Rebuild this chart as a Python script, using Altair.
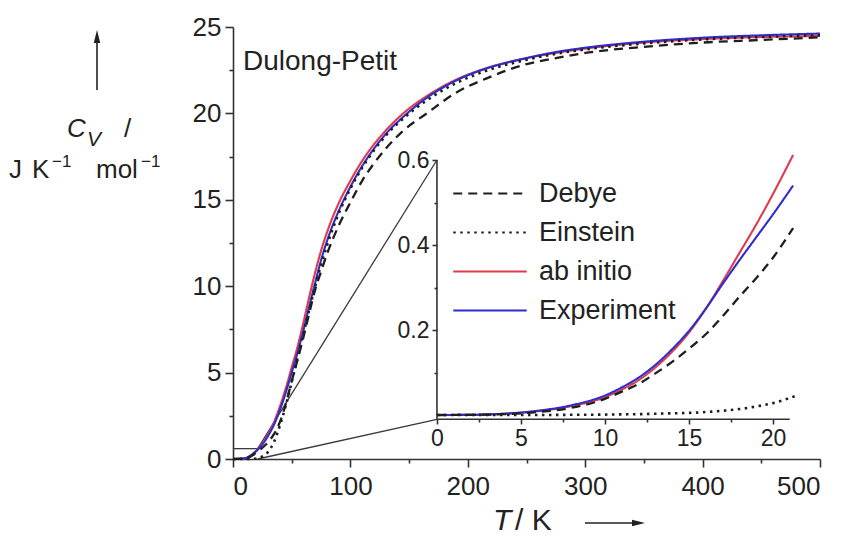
import altair as alt
import pandas as pd

# ---------------- data ----------------
SERIES = ["Debye", "Einstein", "ab initio", "Experiment"]
COLORS = ["#1e1e1e", "#1e1e1e", "#e23a4c", "#2d2dcf"]
DASHES = [[9, 6], [2.5, 4.5], [1, 0], [1, 0]]
DRAW_ORDER = ["ab initio", "Experiment", "Debye", "Einstein"]

T_MAIN = [0, 10, 15, 20, 25, 30, 35, 40, 45, 50, 55, 60, 65, 70, 75, 80, 90, 100,
          110, 120, 130, 145, 165, 190, 215, 250, 275, 300, 350, 400, 450, 500]
AB_INITIO_MAIN = [0, 0.04, 0.2, 0.5, 0.9, 1.45, 2.15, 3.05, 4.1, 5.3, 6.5, 7.9, 9.4, 10.8,
                  12.05, 13.1, 14.8, 16.1, 17.25, 18.2, 19.0, 20.0, 21.0, 21.95, 22.6,
                  23.2, 23.5, 23.75, 24.1, 24.3, 24.42, 24.48]
EXPERIMENT_MAIN = [0, 0.045, 0.2, 0.47, 0.84, 1.35, 2.0, 2.85, 3.85, 5.0, 6.15, 7.45, 8.85,
                   10.2, 11.5, 12.6, 14.35, 15.75, 16.95, 17.95, 18.8, 19.8, 20.9, 21.9,
                   22.58, 23.2, 23.55, 23.8, 24.15, 24.38, 24.52, 24.62]
DEBYE_MAIN = [0, 0.035, 0.15, 0.37, 0.65, 0.98, 1.45, 2.15, 3.2, 4.5, 5.75, 7.05, 8.45, 9.8,
              10.85, 11.85, 13.5, 14.85, 16.1, 17.1, 17.95, 19.0, 20.0, 21.2, 22.0,
              22.85, 23.2, 23.5, 23.85, 24.1, 24.25, 24.4]
EINSTEIN_MAIN = [0, 0, 0.005, 0.03, 0.15, 0.42, 1.0, 1.95, 3.1, 4.45, 5.85, 7.25, 8.65,
                 10.0, 11.25, 12.35, 14.2, 15.65, 16.85, 17.85, 18.7, 19.7, 20.75, 21.75,
                 22.45, 23.1, 23.45, 23.7, 24.05, 24.28, 24.42, 24.52]

T_INSET = [0, 2, 4, 6, 8, 10, 11, 12, 13, 14, 15, 16, 17, 18, 19, 20, 21.2]
T_INSET_EINSTEIN = [0, 2, 4, 6, 8, 10, 11, 12, 13, 14, 15, 16, 17, 18, 19, 20, 21.5]
AB_INITIO_INSET = [0, 0.0005, 0.003, 0.009, 0.021, 0.042, 0.06, 0.082, 0.112, 0.149,
                   0.194, 0.25, 0.314, 0.381, 0.448, 0.52, 0.612]
EXPERIMENT_INSET = [0, 0.0005, 0.003, 0.01, 0.023, 0.046, 0.065, 0.088, 0.118, 0.155,
                    0.198, 0.25, 0.308, 0.364, 0.418, 0.472, 0.54]
DEBYE_INSET = [0, 0.0004, 0.002, 0.007, 0.017, 0.038, 0.055, 0.073, 0.098, 0.125,
               0.156, 0.19, 0.232, 0.278, 0.322, 0.37, 0.44]
EINSTEIN_INSET = [0, 0, 0, 0, 0.0005, 0.001, 0.0015, 0.002, 0.003, 0.004, 0.005,
                  0.007, 0.01, 0.014, 0.02, 0.028, 0.047]

MAIN_X_TICKS = [0, 50, 100, 150, 200, 250, 300, 350, 400, 450, 500]
MAIN_Y_TICKS = [0, 2.5, 5, 7.5, 10, 12.5, 15, 17.5, 20, 22.5, 25]
INSET_X_TICKS = [0, 2.5, 5, 7.5, 10, 12.5, 15, 17.5, 20]
INSET_Y_TICKS = [0.1, 0.2, 0.3, 0.4, 0.5, 0.6]

# ---------------- layout constants ----------------
W, H = 587, 432
PAD = {"left": 233, "top": 27, "right": 24, "bottom": 78}
INSET_X_DOMAIN = [-12.14, 22.80]   # inset scale stretched over the whole plot area
INSET_Y_DOMAIN = [-0.1035, 0.913]
INSET_T_END, INSET_C_TOP, INSET_C_FLOOR = 21, 0.6, -0.01
FONT = "Liberation Sans"
INK = "#222222"


def to_main(t, c):
    tx = (t - INSET_X_DOMAIN[0]) / (INSET_X_DOMAIN[1] - INSET_X_DOMAIN[0]) * 500
    cy = (c - INSET_Y_DOMAIN[0]) / (INSET_Y_DOMAIN[1] - INSET_Y_DOMAIN[0]) * 25
    return tx, cy


def long_frame(t_lists, value_lists):
    rows = []
    for name, ts, vals in zip(SERIES, t_lists, value_lists):
        for t, v in zip(ts, vals):
            rows.append({"T": t, "Cv": v, "series": name})
    return pd.DataFrame(rows)


main_df = long_frame([T_MAIN] * 4, [DEBYE_MAIN, EINSTEIN_MAIN, AB_INITIO_MAIN, EXPERIMENT_MAIN])
inset_df = long_frame([T_INSET, T_INSET_EINSTEIN, T_INSET, T_INSET],
                      [DEBYE_INSET, EINSTEIN_INSET, AB_INITIO_INSET, EXPERIMENT_INSET])

legend = alt.Legend(title=None, orient="none", legendX=219, legendY=153,
                    symbolType="stroke", symbolSize=5400, symbolStrokeWidth=2.2,
                    labelFont=FONT, labelFontSize=27, labelColor=INK, labelOffset=11,
                    clipHeight=27, rowPadding=11, padding=0, labelLimit=0)
color_enc = alt.Color("series:N", scale=alt.Scale(domain=SERIES, range=COLORS), legend=legend)
dash_enc = alt.StrokeDash("series:N", scale=alt.Scale(domain=SERIES, range=DASHES), legend=legend)
WIDTHS = {"Debye": 2.3, "Einstein": 2.6, "ab initio": 2.1, "Experiment": 2.1}

axis_common = dict(grid=False, title=None, tickColor="#333", tickWidth=1.6,
                   labelFont=FONT, labelColor=INK)

main_x = alt.X("T:Q", scale=alt.Scale(domain=[0, 500], nice=False, zero=False),
               axis=alt.Axis(orient="bottom", values=MAIN_X_TICKS, domainColor="#333", domainWidth=1.6,
                             labelExpr="datum.value % 100 == 0 ? datum.label : ''",
                             tickSize={"condition": {"test": "datum.value % 100 != 0", "value": 4}, "value": 8},
                             labelFontSize=26, labelPadding=6, **axis_common))
main_y = alt.Y("Cv:Q", scale=alt.Scale(domain=[0, 25], nice=False, zero=False),
               axis=alt.Axis(orient="left", values=MAIN_Y_TICKS, domainColor="#333", domainWidth=1.6,
                             labelExpr="datum.value % 5 == 0 ? datum.label : ''",
                             tickSize={"condition": {"test": "datum.value % 5 != 0", "value": 4}, "value": 8},
                             labelFontSize=26, labelPadding=4, **axis_common))

inset_x = alt.X("T:Q", scale=alt.Scale(domain=INSET_X_DOMAIN, nice=False, zero=False),
                axis=alt.Axis(orient="bottom", offset=-40, values=INSET_X_TICKS, domain=False,
                              labelExpr="datum.value % 5 == 0 ? format(datum.value, 'd') : ''",
                              tickSize={"condition": {"test": "datum.value % 5 != 0", "value": 3}, "value": 5},
                              labelFontSize=23, labelPadding=3, **axis_common))
inset_y = alt.Y("Cv:Q", scale=alt.Scale(domain=INSET_Y_DOMAIN, nice=False, zero=False),
                axis=alt.Axis(orient="left", offset=-204, values=INSET_Y_TICKS, domain=False,
                              labelExpr="round(datum.value * 10) % 2 == 0 ? format(datum.value, '.1f') : ''",
                              tickSize={"condition": {"test": "round(datum.value * 10) % 2 != 0", "value": 3}, "value": 5},
                              labelFontSize=23, labelPadding=3, **axis_common))


def series_layers(df, xenc, yenc):
    base = alt.Chart(df)
    out = []
    for s in DRAW_ORDER:
        out.append(base.transform_filter(alt.datum.series == s)
                   .mark_line(strokeWidth=WIDTHS[s], strokeCap="butt", interpolate="monotone")
                   .encode(x=xenc, y=yenc, color=color_enc, strokeDash=dash_enc, order="T:Q"))
    return out


# zoom box and connector lines (main coordinates)
p_top = to_main(0, INSET_C_TOP)
p_bot = to_main(0, INSET_C_FLOOR)
connect_df = pd.DataFrame([
    {"T": 0, "Cv": INSET_C_TOP, "T2": INSET_T_END, "Cv2": INSET_C_TOP},
    {"T": INSET_T_END, "Cv": INSET_C_TOP, "T2": p_top[0], "Cv2": p_top[1]},
    {"T": INSET_T_END, "Cv": 0, "T2": p_bot[0], "Cv2": p_bot[1]},
])
connectors = alt.Chart(connect_df).mark_rule(color="#3a3a3a", strokeWidth=1.3).encode(
    x=main_x, y=main_y, x2="T2:Q", y2="Cv2:Q")

# inset axis lines (inset coordinates)
inset_axes_df = pd.DataFrame([
    {"T": 0, "Cv": INSET_C_FLOOR, "T2": INSET_T_END, "Cv2": INSET_C_FLOOR},
    {"T": 0, "Cv": INSET_C_FLOOR, "T2": 0, "Cv2": INSET_C_TOP},
])
inset_axis_lines = alt.Chart(inset_axes_df).mark_rule(color="#333", strokeWidth=1.6).encode(
    x=inset_x, y=inset_y, x2="T2:Q", y2="Cv2:Q")

main_group = alt.layer(connectors, *series_layers(main_df, main_x, main_y))
inset_group = alt.layer(inset_axis_lines, *series_layers(inset_df, inset_x, inset_y))


def label(text, x, y, size, italic=False):
    return alt.Chart(alt.Data(values=[{}])).mark_text(
        text=text, font=FONT, fontSize=size, fontStyle="italic" if italic else "normal",
        align="left", baseline="alphabetic", color=INK
    ).encode(x=alt.value(x - PAD["left"]), y=alt.value(y - PAD["top"]))


def arrow_line(x1, y1, x2, y2):
    return alt.Chart(alt.Data(values=[{}])).mark_rule(color=INK, strokeWidth=1.6).encode(
        x=alt.value(x1 - PAD["left"]), y=alt.value(y1 - PAD["top"]),
        x2=alt.value(x2 - PAD["left"]), y2=alt.value(y2 - PAD["top"]))


def arrow_head(x, y, path):
    return alt.Chart(alt.Data(values=[{}])).mark_point(shape=path, filled=True, size=170,
                                                       color=INK, opacity=1).encode(
        x=alt.value(x - PAD["left"]), y=alt.value(y - PAD["top"]))


texts = [
    label("Dulong-Petit", 243, 70, 28),
    label("C", 67, 137, 26, italic=True),
    label("V", 87, 146, 21, italic=True),
    label("/", 124, 137, 26),
    label("J", 9, 178, 26),
    label("K", 32, 178, 26),
    label("\u22121", 52, 167, 17),
    label("mol", 96, 178, 26),
    label("\u22121", 141, 167, 17),
    label("T", 493, 530, 30, italic=True),
    label("/ K", 515, 530, 30),
    arrow_line(97, 90, 97, 40),
    arrow_head(97, 36.5, "M0,-1L0.5,1L-0.5,1Z"),
    arrow_line(585, 523, 634, 523),
    arrow_head(638.5, 523, "M1,0L-1,-0.5L-1,0.5Z"),
]

chart = alt.layer(main_group, inset_group, *texts).resolve_scale(
    x="independent", y="independent"
).properties(
    width=W, height=H, padding=PAD, autosize=alt.AutoSizeParams(type="none"),
    background="white"
).configure_view(stroke=None)

chart.save("out.html", embed_options={"renderer": "svg", "actions": False})
